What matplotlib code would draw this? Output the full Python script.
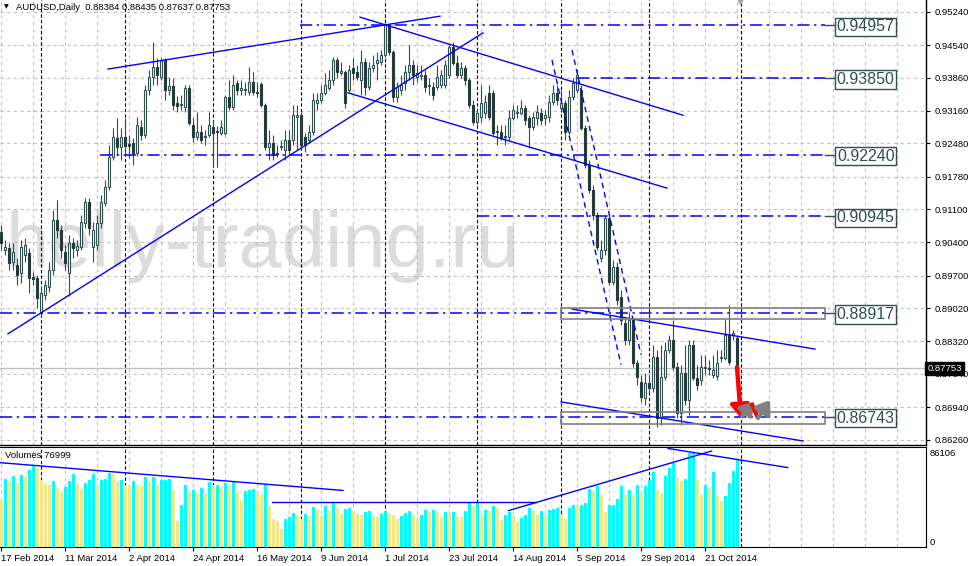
import numpy as np
import pandas as pd
import matplotlib
matplotlib.use("Agg")
import matplotlib.pyplot as plt
from matplotlib.patches import Rectangle

# ---- data (AUDUSD daily) ----
first_day = "2014-02-17"

opens = [
    .9062, .9024, .9028, .8999, .8993, .8976, .9014, .9018, .8967, .8965,
    .8892, .8930, .8946, .8982, .9087, .9066, .9020, .8976, .9039, .9024,
    .9030, .9081, .9125, .9030, .9035, .9081, .9123, .9156, .9219, .9259,
    .9240, .9261, .9247, .9249, .9228, .9282, .9266, .9360, .9387, .9408,
    .9387, .9423, .9360, .9368, .9333, .9329, .9324, .9364, .9287, .9261,
    .9272, .9261, .9266, .9282, .9274, .9270, .9270, .9345, .9324, .9375,
    .9360, .9360, .9356, .9377, .9356, .9373, .9329, .9240, .9249, .9228,
    .9240, .9234, .9255, .9255, .9303, .9308, .9261, .9255, .9272, .9333,
    .9339, .9354, .9364, .9381, .9423, .9396, .9398, .9360, .9406, .9398,
    .9381, .9419, .9366, .9406, .9417, .9419, .9434, .9497, .9440, .9345,
    .9360, .9375, .9398, .9413, .9387, .9389, .9392, .9368, .9366, .9366,
    .9371, .9371, .9392, .9450, .9417, .9392, .9406, .9381, .9329, .9293,
    .9303, .9312, .9354, .9354, .9272, .9272, .9261, .9261, .9301, .9312,
    .9312, .9322, .9301, .9282, .9301, .9312, .9301, .9303, .9335, .9354,
    .9322, .9333, .9272, .9345, .9360, .9360, .9280, .9203, .9150, .9098,
    .9007, .9024, .9091, .8957, .8988, .8925, .8871, .8835, .8877, .8787,
    .8747, .8713, .8745, .8734, .8799, .8673, .8757, .8814, .8835, .8778,
    .8682, .8766, .8709, .8825, .8755, .8751, .8776, .8776, .8762, .8759,
    .8797, .8797, .8846, .8846, .88384,
]
highs = [
    .9077, .9045, .9039, .9039, .9007, .9045, .9049, .9028, .8978, .8972,
    .8948, .8961, .8999, .9108, .9129, .9077, .9035, .9056, .9049, .9045,
    .9098, .9133, .9133, .9083, .9098, .9140, .9171, .9245, .9280, .9301,
    .9280, .9301, .9266, .9259, .9303, .9297, .9371, .9402, .9461, .9427,
    .9427, .9427, .9387, .9385, .9347, .9350, .9371, .9371, .9301, .9314,
    .9287, .9276, .9314, .9297, .9284, .9297, .9350, .9381, .9392, .9381,
    .9381, .9377, .9408, .9398, .9377, .9377, .9333, .9276, .9266, .9245,
    .9255, .9276, .9276, .9329, .9329, .9314, .9270, .9287, .9354, .9354,
    .9371, .9396, .9402, .9429, .9429, .9419, .9402, .9413, .9427, .9413,
    .9444, .9427, .9419, .9434, .9440, .9444, .9499, .9499, .9444, .9377,
    .9392, .9413, .9455, .9423, .9413, .9413, .9402, .9385, .9377, .9413,
    .9402, .9423, .9455, .9461, .9434, .9419, .9413, .9385, .9339, .9322,
    .9371, .9350, .9371, .9360, .9287, .9287, .9287, .9318, .9329, .9329,
    .9339, .9329, .9308, .9314, .9329, .9322, .9318, .9350, .9371, .9371,
    .9360, .9339, .9360, .9385, .9402, .9371, .9287, .9213, .9161, .9104,
    .9045, .9098, .9098, .9003, .8999, .8940, .8881, .8894, .8881, .8793,
    .8762, .8766, .8762, .8825, .8814, .8825, .8831, .8846, .8877, .8789,
    .8783, .8825, .8835, .8835, .8783, .8804, .8804, .8793, .8804, .8814,
    .8814, .8877, .8909, .8856, .88435,
]
lows = [
    .9024, .9014, .8982, .8982, .8951, .8955, .8999, .8934, .8951, .8902,
    .8885, .8919, .8936, .8972, .9049, .9007, .8982, .8927, .9007, .9011,
    .9024, .9070, .9056, .8999, .9024, .9070, .9116, .9150, .9213, .9224,
    .9213, .9224, .9217, .9203, .9221, .9255, .9259, .9350, .9371, .9371,
    .9381, .9339, .9350, .9318, .9314, .9318, .9314, .9287, .9251, .9255,
    .9249, .9245, .9261, .9200, .9198, .9266, .9266, .9318, .9318, .9350,
    .9350, .9350, .9350, .9350, .9345, .9324, .9234, .9213, .9213, .9219,
    .9234, .9213, .9224, .9245, .9234, .9234, .9230, .9249, .9266, .9318,
    .9333, .9350, .9360, .9371, .9385, .9392, .9322, .9356, .9381, .9381,
    .9350, .9350, .9360, .9398, .9381, .9413, .9429, .9434, .9335, .9335,
    .9350, .9360, .9381, .9371, .9377, .9381, .9356, .9350, .9339, .9360,
    .9364, .9364, .9385, .9413, .9385, .9385, .9371, .9322, .9287, .9287,
    .9293, .9301, .9297, .9266, .9245, .9255, .9245, .9255, .9297, .9301,
    .9308, .9287, .9238, .9276, .9287, .9287, .9287, .9293, .9329, .9329,
    .9314, .9255, .9266, .9339, .9354, .9276, .9196, .9144, .9087, .9024,
    .8999, .9014, .8951, .8951, .8909, .8867, .8825, .8825, .8778, .8741,
    .8705, .8699, .8726, .8726, .8652, .8657, .8751, .8808, .8772, .8671,
    .8657, .8699, .8678, .8751, .8730, .8741, .8762, .8762, .8755, .8751,
    .8789, .8793, .8783, .8835, .87637,
]
closes = [
    .9039, .9030, .8997, .9020, .8972, .9030, .9035, .8965, .8963, .8923,
    .8934, .8951, .8982, .9087, .9066, .9024, .8997, .9039, .9028, .9032,
    .9083, .9125, .9070, .9066, .9081, .9125, .9156, .9219, .9261, .9240,
    .9261, .9242, .9242, .9228, .9287, .9266, .9360, .9387, .9408, .9392,
    .9423, .9360, .9368, .9329, .9326, .9331, .9364, .9291, .9261, .9272,
    .9255, .9263, .9287, .9270, .9272, .9282, .9345, .9324, .9371, .9360,
    .9364, .9362, .9377, .9356, .9354, .9329, .9240, .9249, .9224, .9226,
    .9242, .9255, .9234, .9308, .9308, .9245, .9245, .9272, .9339, .9339,
    .9354, .9371, .9381, .9423, .9398, .9400, .9333, .9402, .9396, .9387,
    .9419, .9366, .9406, .9413, .9423, .9434, .9497, .9440, .9345, .9366,
    .9371, .9398, .9413, .9392, .9396, .9392, .9366, .9371, .9350, .9387,
    .9392, .9413, .9450, .9417, .9392, .9406, .9381, .9329, .9293, .9312,
    .9333, .9335, .9303, .9270, .9274, .9259, .9263, .9301, .9318, .9314,
    .9322, .9297, .9282, .9303, .9314, .9297, .9308, .9335, .9354, .9339,
    .9333, .9272, .9345, .9375, .9392, .9280, .9203, .9150, .9098, .9030,
    .9024, .9091, .8957, .8988, .8919, .8877, .8835, .8877, .8787, .8757,
    .8715, .8745, .8734, .8799, .8671, .8757, .8814, .8835, .8778, .8682,
    .8766, .8709, .8825, .8755, .8741, .8778, .8778, .8774, .8772, .8787,
    .8799, .8846, .8789, .8850, .87753,
]
volumes = [
    41600, 59900, 57600, 62000, 56200, 63400, 62000, 67800, 71600, 69300,
    59100, 56200, 54700, 58200, 51800, 48900, 52400, 57600, 64300, 56200,
    51200, 56200, 58500, 64300, 53300, 59100, 59700, 64900, 64000, 57600,
    58500, 54700, 53300, 57600, 54700, 53300, 61400, 57600, 61400, 54700,
    58500, 59100, 59900, 50300, 22700, 37200, 54700, 49500, 50300, 47400,
    51800, 47400, 57000, 54100, 54700, 52400, 56200, 54100, 57000, 49500,
    41600, 48900, 50300, 51200, 47400, 46000, 55300, 35800, 25000, 22700,
    15400, 25000, 26200, 30000, 27100, 25000, 29100, 27100, 34900, 32900,
    27100, 35800, 32900, 39300, 34300, 29100, 33500, 34000, 31400, 30000,
    28500, 30800, 31400, 28500, 26200, 29100, 32000, 30000, 27900, 24200,
    27100, 30000, 31400, 27900, 23300, 28000, 32900, 30800, 32900, 30600,
    26200, 30600, 29100, 30600, 27100, 26200, 31400, 39300, 35800, 39300,
    27900, 32900, 32000, 35800, 34300, 23300, 27900, 30600, 27100, 22700,
    25600, 27900, 34300, 31400, 27900, 32000, 28500, 32900, 33500, 34300,
    29100, 25000, 34300, 36700, 35800, 37200, 38700, 50900, 48900, 53300,
    45400, 30600, 36700, 37200, 42200, 53300, 45400, 50300, 45400, 54700,
    47400, 53300, 59100, 65800, 50300, 47400, 62000, 69800, 73600, 61100,
    58200, 59900, 82400, 83200, 59100, 45400, 54700, 52400, 66300, 44500,
    40200, 44500, 56200, 66900, 76999,
]
volume_max = 86106

price_ticks = [0.95240, 0.94540, 0.93860, 0.93160, 0.92480, 0.91780, 0.91100,
               0.90400, 0.89700, 0.89020, 0.88320, 0.87640, 0.86940, 0.86260]

# horizontal levels and the bar where each one starts
levels = [0.94957, 0.93850, 0.92240, 0.90945, 0.88917, 0.86743]
level_from = [74.75, 144, 24.75, 119, -0.25, -0.25]
level_to = 206

# trend lines drawn on the chart: (bar, price) pairs
trend_lines = [
    [(26.75, 0.9404), (109.75, 0.9515)],
    [(1.75, 0.8848), (120.5, 0.9480)],
    [(89.75, 0.9513), (170.5, 0.9307)],
    [(86.75, 0.9354), (166.5, 0.9154)],
    [(140, 0.8705), (200.5, 0.8623)],
    [(142.75, 0.8900), (203.5, 0.8816)],
]
fall_channel = [
    [(137.75, 0.9423), (155, 0.8783)],
    [(142.75, 0.9444), (160, 0.8804)],
]
zones = [(140, 206, 0.88791, 0.89022), (140, 206, 0.86586, 0.86838)]

# volume trend lines: (bar, volume)
vol_lines = [
    [(-0.25, 74100), (85.5, 49700)],
    [(67.75, 39500), (133.75, 39500)],
    [(126.9, 32000), (177.65, 84300)],
    [(166.75, 86600), (196.7, 69800)],
]

# forecast arrows (bar, price)
red_path = [(184, 0.8778), (185, 0.8671)]
grey_path_a = [(185.25, 0.8675), (188, 0.8705)]
red_path_b = [(187.6, 0.8703), (189.25, 0.8671)]
grey_path_b = [(189.25, 0.8671), (192.25, 0.8709)]

# ---- styling ----
plt.rcParams["font.family"] = ["Liberation Sans", "DejaVu Sans"]
DARK = "#2F4F4F"
BEAR = "#253a3a"
GRID = "#C0C0C0"
BLUE = "#0000FF"
FS = 6.8

o = np.array(opens); h = np.array(highs); l = np.array(lows); c = np.array(closes)
h = np.maximum(h, np.maximum(o, c))
l = np.minimum(l, np.minimum(o, c))
n = len(c)
x = np.arange(n)
dates = pd.bdate_range(first_day, periods=n)
vol = np.array(volumes)

W, H = 968, 566
def rect(x0, y0, x1, y1):
    return [x0 / W, 1 - y1 / H, (x1 - x0) / W, (y1 - y0) / H]

fig = plt.figure(figsize=(W / 100, H / 100), dpi=100)
ax = fig.add_axes(rect(0, 0, 926, 445))
axv = fig.add_axes(rect(0, 447, 926, 547), sharex=ax)

xmax = 231.25
ax.set_xlim(-0.25, xmax)
ax.set_ylim(0.9549 - 445 * 0.00021, 0.9549)
axv.set_ylim(0, volume_max / 0.98)

# grid + period separators
for a in (ax, axv):
    for i in range(0, int(xmax) + 1, 8):
        a.axvline(i, color=GRID, lw=0.8, ls=(0, (3, 3)), zorder=1)
months = [i for i in range(1, n) if dates[i].month != dates[i - 1].month] + [n]
for a in (ax, axv):
    for i in months:
        a.axvline(i, color="black", lw=0.8, ls=(0, (3, 2)), zorder=1.5)
for p in price_ticks:
    ax.axhline(p, color=GRID, lw=0.8, ls=(0, (3, 3)), zorder=1)

# watermark
ax.text(6 / W, 1 - 267 / H, "helly-trading.ru", transform=fig.transFigure,
        fontsize=56, color="#DCDCDC", va="baseline", ha="left", zorder=0.5)

# current price line
ax.axhline(c[-1], color=GRID, lw=1, zorder=2)

# candles
up = c >= o
ax.vlines(x, l, h, color=DARK, lw=0.8, zorder=3)
body_lo = np.minimum(o, c)
body_h = np.maximum(np.abs(c - o), 0.00006)
ax.bar(x[up], body_h[up], bottom=body_lo[up], width=0.62, facecolor="white",
       edgecolor=DARK, lw=0.8, zorder=4)
ax.bar(x[~up], body_h[~up], bottom=body_lo[~up], width=0.62, facecolor=BEAR,
       edgecolor=BEAR, lw=0.8, zorder=4)

# trend lines
for seg in trend_lines:
    xs, ys = zip(*seg)
    ax.plot(xs, ys, color=BLUE, lw=1, zorder=5)
for seg in fall_channel:
    xs, ys = zip(*seg)
    ax.plot(xs, ys, color=BLUE, lw=1, ls=(0, (4, 3)), zorder=5)
for x0, x1, p0, p1 in zones:
    ax.add_patch(Rectangle((x0, p0), x1 - x0, p1 - p0, fill=False,
                           ec="#808080", lw=1.2, zorder=5))

# levels with labels
for lvl, start in zip(levels, level_from):
    ax.plot([start, level_to], [lvl, lvl], color=BLUE, lw=1.1,
            ls=(0, (8, 3, 1.5, 3)), zorder=5)
    ax.plot([level_to, 208.75], [lvl, lvl], color=DARK, lw=1, zorder=5)
    ax.text(216.2, lvl, f"{lvl:.5f}", ha="center", va="center_baseline",
            fontsize=11.5, color=DARK, zorder=7,
            bbox=dict(boxstyle="square,pad=0.1", fc="white", ec=DARK, lw=1))

# forecast arrows
def arrow(path, color, lw, hw):
    (x0, y0), (x1, y1) = path
    ax.annotate("", xy=(x1, y1), xytext=(x0, y0), zorder=8,
                arrowprops=dict(arrowstyle=f"-|>,head_width={hw},head_length={hw * 1.4}",
                                color=color, lw=lw, shrinkA=0, shrinkB=0))
arrow(red_path, "#FF0000", 3.2, 0.55)
arrow(grey_path_a, "#808080", 3.0, 0.5)
xs, ys = zip(*red_path_b)
ax.plot(xs, ys, color="#FF0000", lw=3.0, zorder=8, solid_capstyle="butt")
arrow(grey_path_b, "#808080", 3.0, 0.55)

# shift marker at top
ax.plot([184.75], [ax.get_ylim()[1]], marker="v", ms=6, color="#A8A8A8",
        clip_on=False, zorder=9)

# price axis
for s in ("top", "left"):
    ax.spines[s].set_visible(False)
ax.spines["right"].set_linewidth(1)
ax.spines["bottom"].set_linewidth(1)
ax.yaxis.tick_right()
ax.set_yticks(price_ticks)
ax.set_yticklabels([f"{p:.5f}" for p in price_ticks])
ax.tick_params(axis="y", length=3, pad=3, labelsize=FS, direction="out")
ax.tick_params(axis="x", bottom=False, labelbottom=False)
ax.text(1.0015, c[-1], f"{c[-1]:.5f}", transform=ax.get_yaxis_transform(),
        ha="left", va="center", fontsize=FS, color="white", clip_on=False,
        zorder=10, bbox=dict(boxstyle="square,pad=0.25", fc="black", ec="black"))

# header
ax.text(4 / W, 1 - 7 / H, "\u25BC", transform=fig.transFigure, fontsize=4.5,
        va="center", ha="left", family="DejaVu Sans")
ax.text(16 / W, 1 - 7 / H,
        "AUDUSD,Daily  " + " ".join(f"{v:.5f}" for v in (opens[-1], highs[-1], lows[-1], closes[-1])),
        transform=fig.transFigure, fontsize=FS, va="center", ha="left")

# volumes
colors = ["#F0E68C"] + ["#00FFFF" if vol[i] > vol[i - 1] else "#F0E68C" for i in range(1, n)]
axv.bar(x, vol, width=0.75, color=colors, lw=0, zorder=3)
for seg in vol_lines:
    xs, ys = zip(*seg)
    axv.plot(xs, ys, color=BLUE, lw=1, zorder=5, clip_on=True)
axv.spines["left"].set_visible(False)
axv.set_yticks([])
axv.text(5 / W, 1 - 455 / H, f"Volumes {vol[-1]}", transform=fig.transFigure,
         fontsize=FS, va="center", ha="left")
axv.text(1.004, volume_max, f"{volume_max}", transform=axv.get_yaxis_transform(),
         fontsize=FS, va="top", ha="left", clip_on=False)
axv.text(1.004, 0, "0", transform=axv.get_yaxis_transform(),
         fontsize=FS, va="bottom", ha="left", clip_on=False)

label_idx = list(range(0, n, 16))
axv.set_xticks(label_idx)
axv.set_xticklabels([f"{dates[i].day} {dates[i]:%b %Y}" for i in label_idx],
                    fontsize=FS, ha="left")
axv.tick_params(axis="x", length=3, pad=2)
axv.set_xlim(-0.25, xmax)

fig.savefig("out.png", dpi=100, facecolor="white")
